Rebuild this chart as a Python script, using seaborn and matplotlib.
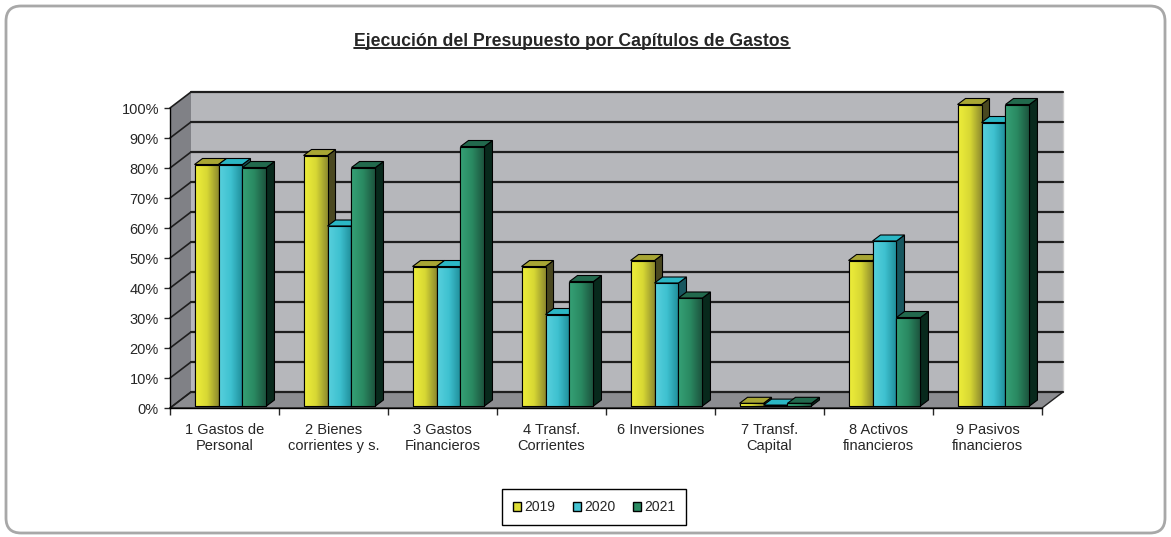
import numpy as np
import pandas as pd
import matplotlib
matplotlib.use('Agg')
import matplotlib.pyplot as plt
import seaborn as sns
from matplotlib.patches import Polygon, Rectangle, FancyBboxPatch, Patch
from matplotlib.colors import LinearSegmentedColormap
from matplotlib.lines import Line2D
from matplotlib.transforms import offset_copy

# datos (% de ejecución)
capitulos = ['1 Gastos de\nPersonal', '2 Bienes\ncorrientes y s.', '3 Gastos\nFinancieros',
             '4 Transf.\nCorrientes', '6 Inversiones', '7 Transf.\nCapital',
             '8 Activos\nfinancieros', '9 Pasivos\nfinancieros']
anios = ['2019', '2020', '2021']
ejec_2019 = [80.5, 83.5, 46.5, 46.5, 48.5, 0.9, 48.5, 100.5]
ejec_2020 = [80.5, 60.0, 46.5, 30.5, 41.0, 0.3, 55.0, 94.5]
ejec_2021 = [79.5, 79.5, 86.5, 41.5, 36.0, 0.9, 29.5, 100.5]
y_ticks = list(range(0, 101, 10))

df = pd.DataFrame({
    'capitulo': capitulos * 3,
    'anio': np.repeat(anios, len(capitulos)),
    'valor': ejec_2019 + ejec_2020 + ejec_2021,
})

# colores
color_base = ['#dede36', '#45c4d3', '#2b8c63']
color_grad = [['#eeee3a', '#d8d834', '#8e8b2e'],
              ['#58d0dd', '#3ec1d0', '#1f8d99'],
              ['#36a176', '#2a8a62', '#1d553f']]
color_lado = ['#4a4820', '#17575f', '#08291c']
color_tapa = ['#a8a634', '#2bb7c4', '#22694d']

sns.set_style('white')
plt.rcParams['font.family'] = ['Liberation Sans', 'DejaVu Sans']

fig = plt.figure(figsize=(11.71, 5.37), dpi=100)
W, H = 1171, 537
ax = fig.add_axes([170 / W, 129 / H, 872 / W, 300 / H])

sns.barplot(data=df, x='capitulo', y='valor', hue='anio', palette=color_base,
            width=0.66, saturation=1, edgecolor='black', linewidth=0.8,
            legend=False, ax=ax)
ax.set_xlim(-0.5, 7.5)
ax.set_ylim(0, 100)
ax.patch.set_visible(False)

# escala pixel -> datos
p0 = ax.transData.transform((0, 0))
p1 = ax.transData.transform((1, 10))
ppx, ppy = p1[0] - p0[0], (p1[1] - p0[1]) / 10

# paredes 3D
wdx, wdy = 21 / ppx, 16 / ppy
x0, x1 = -0.5, 7.5
ax.add_patch(Rectangle((x0 + wdx, wdy), 8, 100, facecolor='#b6b7bb', edgecolor='none',
                       zorder=0, clip_on=False))
ax.add_patch(Polygon([(x0, 0), (x0, 100), (x0 + wdx, 100 + wdy), (x0 + wdx, wdy)],
                     facecolor='#808186', edgecolor='none', zorder=0, clip_on=False))
ax.add_patch(Polygon([(x0, 0), (x1, 0), (x1 + wdx, wdy), (x0 + wdx, wdy)],
                     facecolor='#8c8d91', edgecolor='#222222', lw=1, zorder=0.5, clip_on=False))
ax.plot([x1 + wdx, x1 + wdx], [wdy, 100 + wdy], color='#d0d0d0', lw=1, zorder=0.6, clip_on=False)
for v in y_ticks:
    ax.plot([x0 + wdx, x1 + wdx], [v + wdy, v + wdy], color='#1e1e1e', lw=1.6,
            zorder=1, clip_on=False)
    ax.plot([x0, x0 + wdx], [v, v + wdy], color='#1e1e1e', lw=1.2, zorder=1, clip_on=False)

# barras con profundidad
bdx, bdy = 8 / ppx, 6 / ppy
trans_barra = offset_copy(ax.transData, fig=fig, x=6, y=2, units='dots')
grad = np.linspace(0, 1, 64).reshape(1, -1)
for k, cont in enumerate(ax.containers):
    cmap = LinearSegmentedColormap.from_list('g%d' % k, color_grad[k])
    z = 3 + k
    for bar in cont:
        x, w, h = bar.get_x(), bar.get_width(), bar.get_height()
        bar.set_transform(trans_barra)
        bar.set_zorder(z)
        bar.set_clip_on(False)
        im = ax.imshow(grad, cmap=cmap, extent=[x, x + w, 0, h], aspect='auto',
                       transform=trans_barra, zorder=z + 0.1, interpolation='bilinear')
        im.set_clip_path(bar)
        ax.add_patch(Rectangle((x, 0), w, h, fill=False, edgecolor='black', lw=0.8,
                               transform=trans_barra, zorder=z + 0.2, clip_on=False))
        ax.add_patch(Polygon([(x + w, 0), (x + w, h), (x + w + bdx, h + bdy), (x + w + bdx, bdy)],
                             facecolor=color_lado[k], edgecolor='black', lw=0.8,
                             transform=trans_barra, zorder=z, clip_on=False))
        ax.add_patch(Polygon([(x, h), (x + w, h), (x + w + bdx, h + bdy), (x + bdx, h + bdy)],
                             facecolor=color_tapa[k], edgecolor='black', lw=0.8,
                             transform=trans_barra, zorder=z, clip_on=False))
ax.set_xlim(-0.5, 7.5)
ax.set_ylim(0, 100)

# ejes
sns.despine(ax=ax, top=True, right=True)
for s in ['left', 'bottom']:
    ax.spines[s].set_color('black')
    ax.spines[s].set_linewidth(1)
    ax.spines[s].set_zorder(2)
ax.set_yticks(y_ticks, [f'{v}%' for v in y_ticks])
ax.set_xticks(range(len(capitulos)), capitulos)
ax.set_xticks(np.arange(-0.5, 8, 1), minor=True)
ax.tick_params(axis='y', length=4, width=1, pad=4, labelsize=10.5, direction='out', left=True)
ax.tick_params(axis='x', which='major', length=0, pad=11, labelsize=10.5)
ax.tick_params(axis='x', which='minor', length=5, width=1, direction='out', bottom=True)
ax.set_xlabel('')
ax.set_ylabel('')

# título subrayado
titulo = fig.text(572 / W, 1 - 41 / H, 'Ejecución del Presupuesto por Capítulos de Gastos',
                  ha='center', va='center', fontsize=12.7, fontweight='bold')

# leyenda
handles = [Patch(facecolor=c, edgecolor='black', lw=1) for c in color_base]
fig.legend(handles, anios, loc='center', bbox_to_anchor=(594 / W, 1 - 507 / H), ncol=3,
           frameon=True, fancybox=False, edgecolor='black', framealpha=1,
           handlelength=0.6, handleheight=0.6, handletextpad=0.2, columnspacing=1.3,
           fontsize=10, borderpad=0.8)

# borde redondeado
fig.patches.append(FancyBboxPatch((0.06, 0.04), 11.59, 5.27,
                                  boxstyle='round,pad=0,rounding_size=0.15',
                                  transform=fig.dpi_scale_trans, facecolor='none',
                                  edgecolor='#a8a8a8', lw=2))

fig.canvas.draw()
bb = titulo.get_window_extent(fig.canvas.get_renderer())
fig.lines.append(Line2D([bb.x0 / W, bb.x1 / W], [(bb.y0 + 2) / H, (bb.y0 + 2) / H],
                        transform=fig.transFigure, color='black', lw=1.2))

fig.savefig('out.png', dpi=100, facecolor='white')
plt.close(fig)
